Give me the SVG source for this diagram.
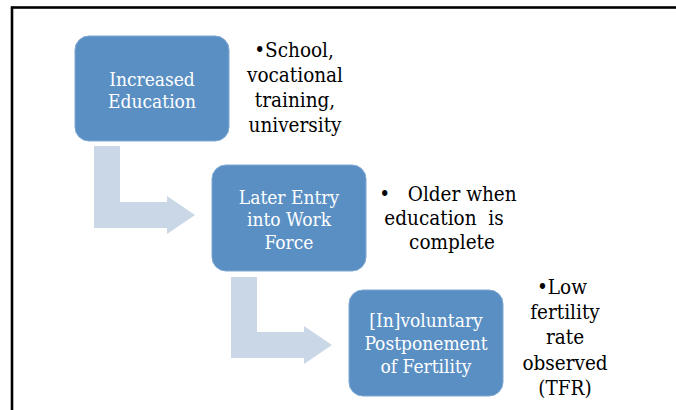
<svg xmlns="http://www.w3.org/2000/svg" width="676" height="410" viewBox="0 0 676 410">
<style>
.box{fill:#5A8FC4;stroke:#7FA8D2;stroke-width:1}
text{font-family:"DejaVu Serif Condensed","DejaVu Serif",serif;font-stretch:condensed}
.bt{font-size:19px;fill:#ffffff;text-anchor:middle}
.st{font-size:20.5px;fill:#000000;text-anchor:middle}
.arr{fill:#C9D7E7}
</style>
<rect x="0" y="0" width="676" height="410" fill="#ffffff"/>
<rect x="12" y="7.5" width="720" height="460" fill="none" stroke="#000000" stroke-width="2.6"/>
<g id="connectors">
<path class="arr" d="M94,146 H120 V202 H167 V196 L195,215 L167,234 V228 H94 Z"/>
<path class="arr" d="M231,277 H257 V332 H304 V326 L332,345 L304,364 V358 H231 Z"/>
</g>
<g id="node1">
<rect class="box" x="75" y="36" width="154" height="105" rx="14"/>
<text class="bt" x="152" y="86">Increased</text>
<text class="bt" x="152" y="108">Education</text>
</g>
<g id="node1-note">
<text class="st" x="294" y="57">•School,</text>
<text class="st" x="295" y="82">vocational</text>
<text class="st" x="295" y="107">training,</text>
<text class="st" x="295" y="132">university</text>
</g>
<g id="node2">
<rect class="box" x="212" y="165" width="154" height="106" rx="14"/>
<text class="bt" x="289" y="204">Later Entry</text>
<text class="bt" x="289" y="226">into Work</text>
<text class="bt" x="289" y="249">Force</text>
</g>
<g id="node2-note">
<text class="st" x="448" y="201" xml:space="preserve">•   Older when</text>
<text class="st" x="444" y="225" xml:space="preserve">education  is</text>
<text class="st" x="452" y="249">complete</text>
</g>
<g id="node3">
<rect class="box" x="349" y="290" width="154" height="106" rx="14"/>
<text class="bt" x="426" y="327">[In]voluntary</text>
<text class="bt" x="426" y="350">Postponement</text>
<text class="bt" x="426" y="373">of Fertility</text>
</g>
<g id="node3-note">
<text class="st" x="562" y="294">•Low</text>
<text class="st" x="565" y="319">fertility</text>
<text class="st" x="565" y="344">rate</text>
<text class="st" x="565" y="370">observed</text>
<text class="st" x="565" y="395">(TFR)</text>
</g>
</svg>
